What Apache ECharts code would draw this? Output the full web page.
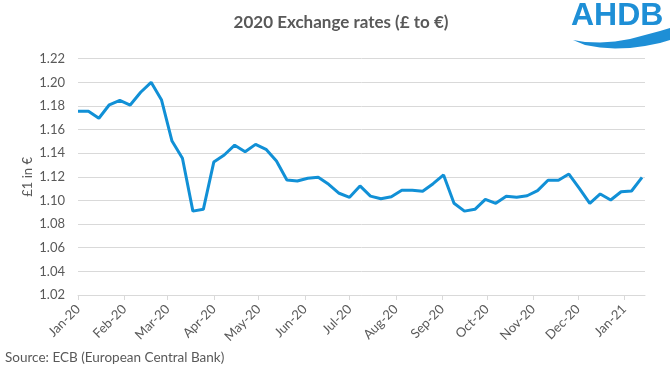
<!DOCTYPE html>
<html>
<head>
<meta charset="utf-8">
<script src="https://cdn.jsdelivr.net/npm/echarts@6/dist/echarts.min.js"></script>
<style>
html,body{margin:0;padding:0;background:#fff;}
#chart{width:672px;height:378px;}
</style>
</head>
<body>
<div id="chart"></div>
<script>
// Weekly observations starting 1 Jan 2020
const startDate = '2020-01-01';
const rates = [
  1.1755, 1.1755, 1.1696, 1.1810, 1.1848, 1.1808, 1.1916, 1.2000, 1.1850, 1.1503,
  1.1357, 1.0910, 1.0925, 1.1325, 1.1385, 1.1468, 1.1413, 1.1475, 1.1433, 1.1334,
  1.1173, 1.1165, 1.1188, 1.1196, 1.1137, 1.1061, 1.1027, 1.1123, 1.1037, 1.1015,
  1.1032, 1.1086, 1.1086, 1.1078, 1.1142, 1.1216, 1.0976, 1.0910, 1.0925, 1.1010,
  1.0976, 1.1035, 1.1027, 1.1040, 1.1083, 1.1171, 1.1171, 1.1224, 1.1103, 1.0976,
  1.1055, 1.1004, 1.1074, 1.1080, 1.1196
];
const monthNames = ['Jan','Feb','Mar','Apr','May','Jun','Jul','Aug','Sep','Oct','Nov','Dec'];
const yTicks = [1.02,1.04,1.06,1.08,1.10,1.12,1.14,1.16,1.18,1.20,1.22];
const titleText = '2020 Exchange rates (£ to €)';
const yName = '£1 in €';
const sourceText = 'Source: ECB (European Central Bank)';

const DAY = 86400000;
const t0 = Date.UTC(2020,0,1);
const seriesData = rates.map((v,i) => [t0 + i*7*DAY, v]);
const xMax = t0 + (rates.length-1)*7*DAY + 2*DAY;

const chart = echarts.init(document.getElementById('chart'), null, {renderer:'canvas'});
const txt = '#595959';
const font = 'Lato';
chart.setOption({
  animation:false,
  useUTC:true,
  title:{
    text:titleText, left:336, top:9, textAlign:'center',
    textStyle:{fontFamily:font, fontSize:17, fontWeight:'bold', color:txt}
  },
  grid:{left:78, right:27, top:58.7, bottom:83, containLabel:false},
  xAxis:{
    type:'time', min:t0, max:xMax,
    splitNumber:13, minInterval:28*DAY, maxInterval:31*DAY,
    axisLine:{show:true, lineStyle:{color:'#d9d9d9', width:1}},
    axisTick:{show:true, length:5, lineStyle:{color:'#d9d9d9'}},
    splitLine:{show:false},
    axisLabel:{
      rotate:45, margin:12, color:txt, fontFamily:font, fontSize:13,
      formatter:function(v){
        const d = new Date(v);
        return monthNames[d.getUTCMonth()] + '-' + String(d.getUTCFullYear()).slice(2);
      }
    }
  },
  yAxis:{
    type:'value', min:yTicks[0], max:yTicks[yTicks.length-1], interval:0.02,
    name:yName, nameLocation:'middle', nameGap:44, nameRotate:90, nameMoveOverlap:false,
    nameTextStyle:{color:txt, fontFamily:font, fontSize:13},
    axisLine:{show:false}, axisTick:{show:false},
    splitLine:{lineStyle:{color:'#d9d9d9', width:1}},
    axisLabel:{color:txt, fontFamily:font, fontSize:13, margin:13,
      formatter:function(v){return v.toFixed(2);}}
  },
  series:[{
    type:'line', data:seriesData, showSymbol:false, symbol:'none',
    lineStyle:{color:'#1190d6', width:3}, z:5
  }],
  graphic:[
    {type:'text', x:5, y:351, style:{text:sourceText, fill:txt, font:'13.5px Lato'}},
    {type:'text', x:571, y:0, style:{text:'AHDB', fill:'#1e8fd6', font:'bold 32px "Liberation Sans"'}},
    {type:'polygon', shape:{points:[[573,40],[585,42],[600,42.5],[615,41.5],[630,39],[645,35],[660,31],[670,28],
      [670,40],[660,43],[645,46],[630,48],[615,48.5],[600,47.5],[585,45]]},
      style:{fill:'#1e8fd6'}}
  ]
});
</script>
</body>
</html>
